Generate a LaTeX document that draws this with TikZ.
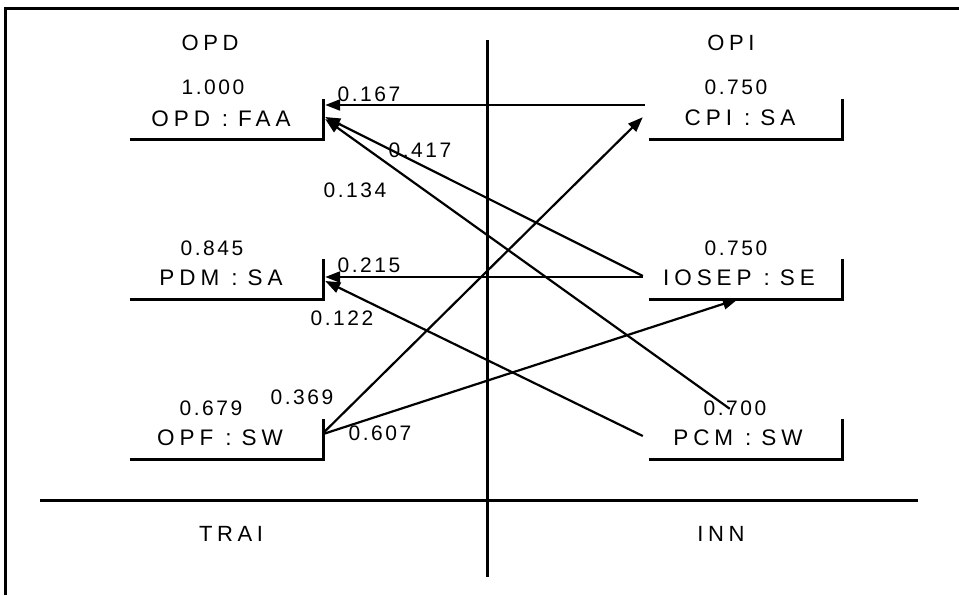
\documentclass[tikz,border=0pt]{standalone}
\usepackage{fontspec}
\setmainfont{Liberation Sans}
\newfontfamily\namefont{Liberation Sans}[LetterSpace=22]
\newfontfamily\titlefont{Liberation Sans}[LetterSpace=21]
\newfontfamily\numfont{Liberation Sans}[LetterSpace=12]
\newcommand{\colsep}{\hspace*{12pt}:\hspace*{10pt}}
\usetikzlibrary{arrows.meta,calc}
\tikzset{
  box/.style={inner sep=0pt,minimum width=193pt,minimum height=40pt},
  bracket/.style={line width=3pt},
  axis/.style={line width=3pt},
  link/.style={line width=2.2pt,-{Triangle[length=15pt,width=11pt]}},
  txt/.style={inner sep=0pt,font=\namefont\fontsize{22.5}{26}\selectfont},
  ttl/.style={inner sep=0pt,font=\titlefont\fontsize{22}{26}\selectfont},
  val/.style={inner sep=0pt,font=\numfont\fontsize{21}{25}\selectfont},
}
\begin{document}
\begin{tikzpicture}[x=1pt,y=-1pt]
\useasboundingbox (0,0) rectangle (959,595);
% outer frame (top and left edges)
\draw[line width=3pt] (5,595) -- (5,8) -- (959,8);
% quadrant axes
\draw[axis] (487,40) -- (487,577);
\draw[axis] (40,500) -- (918,500);
% quadrant titles
\node[ttl] (tOPD) at (210,43) {OPD};
\node[ttl] (tOPI) at (731,43) {OPI};
\node[ttl] (tTRAI) at (231,534) {TRAI};
\node[ttl] (tINN) at (721,534) {INN};
% boxes
\node[box] (faa) at (226.5,119) {};
\node[box] (pdm) at (226.5,279) {};
\node[box] (opf) at (226.5,439) {};
\node[box] (cpi) at (745.5,119) {};
\node[box] (iosep) at (745.5,279) {};
\node[box] (pcm) at (745.5,439) {};
\foreach \b in {faa,pdm,opf,cpi,iosep,pcm}
  \draw[bracket] (\b.south west) -- (\b.south east) -- (\b.north east);
% box names
\node[txt] (nfaa) at (221,119) {OPD\colsep FAA};
\node[txt] (npdm) at (221,278) {PDM\colsep SA};
\node[txt] (nopf) at (220,438) {OPF\colsep SW};
\node[txt] (ncpi) at (740,118) {CPI\colsep SA};
\node[txt] (niosep) at (739,278) {IOSEP\colsep SE};
\node[txt] (npcm) at (738,438) {PCM\colsep SW};
% box values
\node[val] (vfaa) at (213,87) {1.000};
\node[val] (vpdm) at (212,248) {0.845};
\node[val] (vopf) at (211,408) {0.679};
\node[val] (vcpi) at (736,87) {0.750};
\node[val] (viosep) at (736,248) {0.750};
\node[val] (vpcm) at (735,408) {0.700};
% links
\draw[link] ($(cpi.west)+(-4,-14)$) -- ($(faa.east)+(2,-14)$);
\draw[link] ($(iosep.west)+(-6,-3)$) -- ($(faa.east)+(2,-2)$);
\draw[link] ($(pcm.north west)+(81,-10)$) -- ($(faa.east)+(2,0)$);
\draw[link] ($(iosep.west)+(-6,-2)$) -- ($(pdm.east)+(2,-2)$);
\draw[link] ($(pcm.west)+(-6,-3)$) -- ($(pdm.east)+(2,2)$);
\draw[link] ($(opf.east)+(0,-6)$) -- ($(cpi.south west)+(-6,-22)$);
\draw[link] ($(opf.east)+(0,-5)$) -- ($(iosep.south west)+(89,0)$);
% link weights
\node[val] (w1) at (369,94) {0.167};
\node[val] (w2) at (420,150) {0.417};
\node[val] (w3) at (355,190) {0.134};
\node[val] (w4) at (369,265) {0.215};
\node[val] (w5) at (342,318) {0.122};
\node[val] (w6) at (302,397) {0.369};
\node[val] (w7) at (380,433) {0.607};
\end{tikzpicture}
\end{document}
